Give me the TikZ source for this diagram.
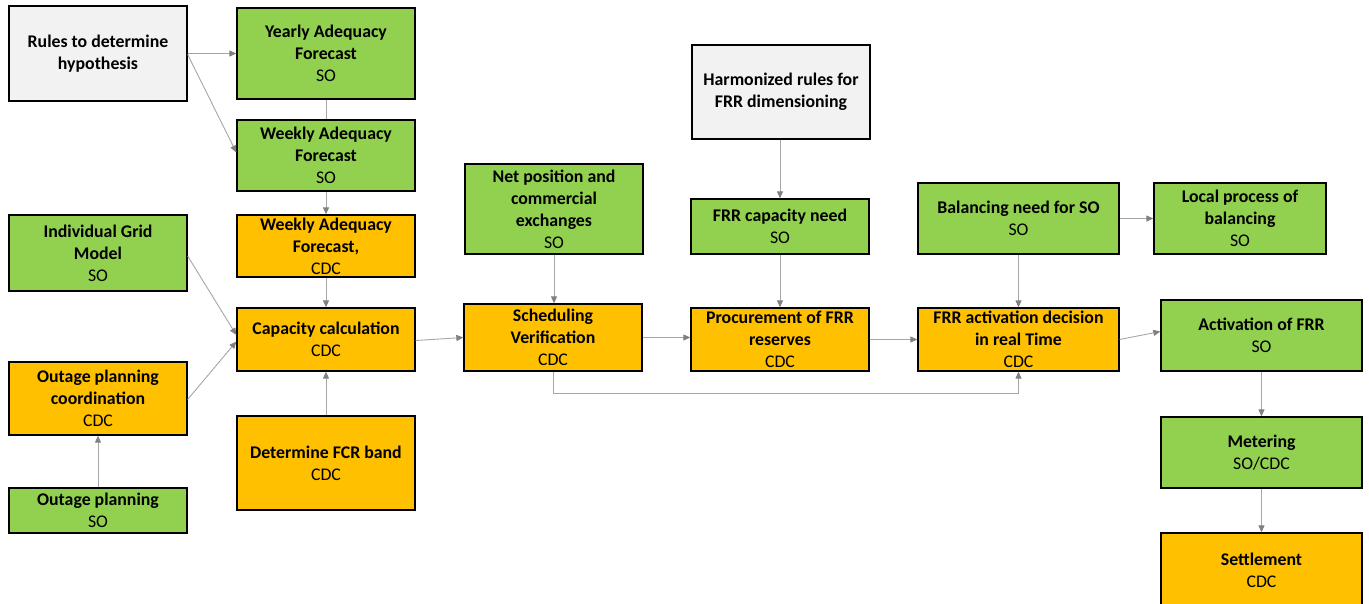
\documentclass[tikz,border=0pt]{standalone}
\usepackage{fontspec}
\setmainfont{Carlito}
\usetikzlibrary{arrows.meta}
\definecolor{boxgreen}{HTML}{92D050}
\definecolor{boxorange}{HTML}{FFC000}
\definecolor{boxgray}{HTML}{F2F2F2}
\definecolor{linkgray}{HTML}{A6A6A6}
\definecolor{tipgray}{HTML}{808080}
\tikzset{
  box/.style={draw=black, line width=1.3pt, inner sep=0pt, align=center,
    font=\fontsize{17.8}{22}\selectfont, text=black},
  so/.style={box, fill=boxgreen},
  cdc/.style={box, fill=boxorange},
  rule/.style={box, fill=boxgray},
  conn/.style={draw=linkgray, line width=0.9pt,
    -{Triangle[length=7pt,width=6pt,color=tipgray,fill=tipgray]}},
  plain/.style={draw=linkgray, line width=0.9pt},
}
% place a box by its corner coordinates
\newcommand{\boxat}[7]{%
  \node[#1, minimum width={(#5)-(#3)}, minimum height={(#6)-(#4)}]
    (#2) at ({((#3)+(#5))/2},{((#4)+(#6))/2}) {#7};}
\begin{document}
\begin{tikzpicture}[x=1pt,y=-1pt]
\useasboundingbox (0,0) rectangle (1369,603);

% left column
\boxat{rule}{rules}{9}{6}{187}{101}{\textbf{Rules to determine}\\\textbf{hypothesis}}
\boxat{so}{igm}{9}{215}{187}{291}{\textbf{Individual Grid}\\\textbf{Model}\\SO}
\boxat{cdc}{ocoord}{9}{362}{187}{435}{\textbf{Outage planning}\\\textbf{coordination}\\CDC}
\boxat{so}{oplan}{9}{488}{187}{533}{\textbf{Outage planning}\\SO}

% second column
\boxat{so}{yaf}{237}{8}{415}{99}{\textbf{Yearly Adequacy}\\\textbf{Forecast}\\SO}
\boxat{so}{wafso}{237}{120}{415}{191}{\textbf{Weekly Adequacy}\\\textbf{Forecast}\\SO}
\boxat{cdc}{wafcdc}{237}{215}{415}{277}{\textbf{Weekly Adequacy}\\\textbf{Forecast,}\\CDC}
\boxat{cdc}{cap}{237}{308}{415}{371}{\textbf{Capacity calculation}\\CDC}
\boxat{cdc}{fcr}{237}{416}{415}{510}{\textbf{Determine FCR band}\\CDC}

% third column
\boxat{so}{netpos}{465}{164}{643}{254}{\textbf{Net position and}\\\textbf{commercial}\\\textbf{exchanges}\\SO}
\boxat{cdc}{sched}{464}{304}{642}{371}{\textbf{Scheduling}\\\textbf{Verification}\\CDC}

% fourth column
\boxat{rule}{harm}{692}{45}{870}{139}{\textbf{Harmonized rules for}\\\textbf{FRR dimensioning}}
\boxat{so}{frrcap}{691}{199}{869}{254}{\textbf{FRR capacity need}\\SO}
\boxat{cdc}{proc}{691}{308}{869}{371}{\textbf{Procurement of FRR}\\\textbf{reserves}\\CDC}

% fifth column
\boxat{so}{bal}{918}{183}{1119}{254}{\textbf{Balancing need for SO}\\SO}
\boxat{cdc}{frract}{918}{308}{1119}{371}{\textbf{FRR activation decision}\\\textbf{in real Time}\\CDC}

% right column
\boxat{so}{local}{1154}{183}{1326}{254}{\textbf{Local process of}\\\textbf{balancing}\\SO}
\boxat{so}{act}{1161}{300}{1362}{371}{\textbf{Activation of FRR}\\SO}
\boxat{so}{meter}{1161}{417}{1362}{488}{\textbf{Metering}\\SO/CDC}
\boxat{cdc}{settle}{1161}{533}{1362}{607}{\textbf{Settlement}\\CDC}

% connectors
\draw[conn] (rules.east) -- (yaf.west);
\draw[conn] ([yshift=-1pt]rules.east) -- ([yshift=3pt]wafso.west);
\draw[plain] (yaf.south) -- (wafso.north);
\draw[conn] (wafso.south) -- (wafcdc.north);
\draw[conn] (wafcdc.south) -- (cap.north);
\draw[conn] ([yshift=-3pt]igm.east) -- ([yshift=4.5pt]cap.west);
\draw[conn] ([yshift=-1pt]ocoord.east) -- ([yshift=-2pt]cap.west);
\draw[conn] (oplan.north) -- (ocoord.south);
\draw[conn] (fcr.north) -- (cap.south);
\draw[conn] ([yshift=-1pt]cap.east) -- (sched.west);
\draw[conn] (netpos.south) -- (netpos.south |- sched.north);
\draw[conn] (sched.east) -- (sched.east -| proc.west);
\draw[conn] (harm.south -| frrcap.north) -- (frrcap.north);
\draw[conn] (frrcap.south) -- (proc.north);
\draw[conn] (proc.east) -- (frract.west);
\draw[conn] (bal.south) -- (frract.north);
\draw[conn] (bal.east) -- (local.west);
\draw[conn] (frract.east) -- ([yshift=4pt]act.west);
\draw[conn] (sched.south) -- ++(0,22) -| (frract.south);
\draw[conn] (act.south) -- (meter.north);
\draw[conn] (meter.south) -- (settle.north);
\end{tikzpicture}
\end{document}
